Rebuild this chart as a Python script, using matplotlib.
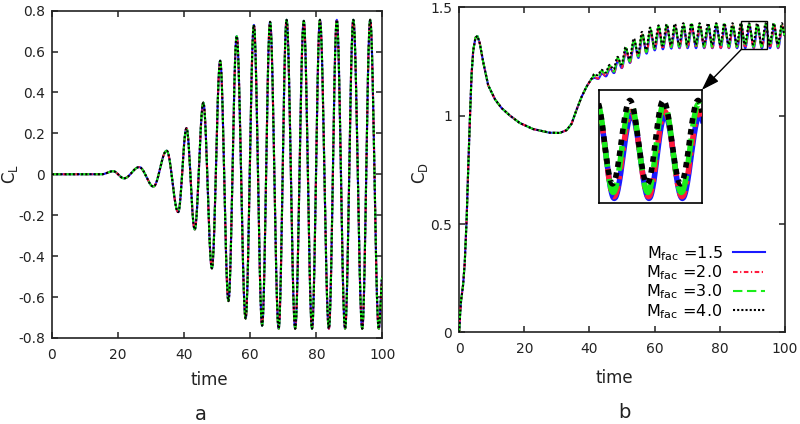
import numpy as np
import matplotlib
matplotlib.use("Agg")
import matplotlib.pyplot as plt
from matplotlib.patches import Rectangle
from matplotlib.ticker import FixedLocator, FixedFormatter

plt.rcParams['font.family'] = ['DejaVu Sans']
plt.rcParams['mathtext.default'] = 'regular'

# ---------------- data ----------------
series_labels = ['$M_{fac}$ =1.5', '$M_{fac}$ =2.0', '$M_{fac}$ =3.0', '$M_{fac}$ =4.0']
series_colors = ['#1a1aff', '#ff1a3c', '#1aee1a', '#000000']

# lift coefficient: flat start then extrema (time, value)
cl_t = [0.0, 15.0, 18.5, 21.8, 26.4, 30.7, 34.7, 38.2, 40.7, 43.2, 45.8, 48.4,
        50.9, 53.4, 55.9, 58.6, 61.1, 63.6, 66.0, 68.6, 71.0, 73.6, 76.2, 78.7,
        81.1, 83.8, 86.2, 88.7, 91.2, 93.9, 96.3, 98.9, 100.0]
cl_v = [0.0, 0.0, 0.015, -0.02, 0.035, -0.06, 0.115, -0.185, 0.225, -0.27, 0.35, -0.46,
        0.555, -0.62, 0.675, -0.705, 0.73, -0.74, 0.745, -0.755, 0.755, -0.755, 0.75, -0.755,
        0.755, -0.755, 0.755, -0.755, 0.755, -0.755, 0.755, -0.755, -0.5]

# drag coefficient: smooth start (time, value)
cd_smooth_t = [0.0, 0.3, 0.6, 1.2, 1.7, 2.3, 2.8, 3.3, 3.8, 4.3, 5.0, 5.6, 6.3, 7.4,
               8.9, 11.0, 13.0, 15.6, 18.6, 22.7, 27.8, 30.9, 33.0, 34.5, 36.0, 37.6,
               39.1, 40.6]
cd_smooth_v = [0.0, 0.09, 0.15, 0.22, 0.32, 0.53, 0.77, 0.99, 1.19, 1.30, 1.36, 1.367,
               1.335, 1.245, 1.14, 1.075, 1.035, 1.0, 0.966, 0.938, 0.921, 0.92, 0.933,
               0.962, 1.025, 1.087, 1.133, 1.17]
# drag coefficient oscillation extrema (time, value); kind: 1 peak, -1 trough
cd_osc_t = [41.5, 42.6, 43.8, 45.0, 46.3, 47.5, 48.7, 49.9, 51.2, 52.4, 53.7, 55.0,
            56.2, 57.5, 58.7, 60.0, 61.3, 62.5, 63.8, 65.1, 66.3, 67.6, 68.9, 70.1,
            71.4, 72.7, 73.9, 75.2, 76.5, 77.7, 79.0, 80.3, 81.5, 82.8, 84.0, 85.3,
            86.6, 87.8, 89.1, 90.4, 91.6, 92.9, 94.2, 95.4, 96.7, 97.9, 99.2, 100.0]
cd_osc_v = [1.185, 1.178, 1.205, 1.19, 1.228, 1.205, 1.265, 1.228, 1.31, 1.252, 1.35, 1.275,
            1.38, 1.295, 1.40, 1.31, 1.41, 1.315, 1.415, 1.318, 1.418, 1.32, 1.42, 1.32,
            1.42, 1.32, 1.42, 1.32, 1.42, 1.32, 1.42, 1.32, 1.42, 1.32, 1.42, 1.32,
            1.42, 1.32, 1.42, 1.32, 1.42, 1.32, 1.42, 1.32, 1.42, 1.32, 1.42, 1.37]
cd_osc_kind = [1, -1] * 23 + [1, 0]
# small per-series differences seen in the zoomed inset
cd_time_shift = [0.05, 0.02, -0.03, -0.08]
cd_peak_offset = [-0.011, -0.007, 0.002, 0.006]
cd_trough_offset = [-0.009, -0.007, -0.002, 0.008]

cl_ticks = [-0.8, -0.6, -0.4, -0.2, 0.0, 0.2, 0.4, 0.6, 0.8]
cl_ticklabels = ['-0.8', '-0.6', '-0.4', '-0.2', '0', '0.2', '0.4', '0.6', '0.8']
cd_ticks = [0.0, 0.5, 1.0, 1.5]
cd_ticklabels = ['0', '0.5', '1', '1.5']
x_ticks = [0, 20, 40, 60, 80, 100]
x_ticklabels = ['0', '20', '40', '60', '80', '100']


def cosine_path(tk, vk, n=24):
    ts, vs = [], []
    for i in range(len(tk) - 1):
        s = np.linspace(0, 1, n, endpoint=False)
        w = (1 - np.cos(np.pi * s)) / 2
        ts.append(tk[i] + (tk[i + 1] - tk[i]) * s)
        vs.append(vk[i] + (vk[i + 1] - vk[i]) * w)
    ts.append([tk[-1]])
    vs.append([vk[-1]])
    return np.concatenate(ts), np.concatenate(vs)


styles = [dict(linestyle='-'),
          dict(linestyle=(0, (2.2, 1.2, 0.6, 1.2))),
          dict(linestyle=(0, (4.5, 2.2))),
          dict(linestyle=(0, (1, 1)))]

fig = plt.figure(figsize=(8, 4.24), dpi=100)
axL = fig.add_axes([0.065, 0.203, 0.413, 0.772])
axR = fig.add_axes([0.574, 0.216, 0.407, 0.767])

lw = 1.5
cl_tt, cl_vv = cosine_path(cl_t, cl_v)
for i in range(4):
    axL.plot(cl_tt, cl_vv, color=series_colors[i], lw=lw, zorder=2 + i, **styles[i])

cd_curves = []
for i in range(4):
    ot = [t + cd_time_shift[i] for t in cd_osc_t]
    ov = []
    for v, k in zip(cd_osc_v, cd_osc_kind):
        if k == 1:
            ov.append(v + cd_peak_offset[i])
        elif k == -1:
            ov.append(v + cd_trough_offset[i])
        else:
            ov.append(v)
    ot = [cd_smooth_t[-1]] + ot
    ov = [cd_smooth_v[-1]] + ov
    tt, vv = cosine_path(ot, ov)
    t_all = np.concatenate([cd_smooth_t[:-1], tt])
    v_all = np.concatenate([cd_smooth_v[:-1], vv])
    cd_curves.append((t_all, v_all))
    axR.plot(t_all, v_all, color=series_colors[i], lw=lw, zorder=2 + i,
             label=series_labels[i], **styles[i])

for ax in (axL, axR):
    ax.set_xlim(0, 100)
    ax.xaxis.set_major_locator(FixedLocator(x_ticks))
    ax.xaxis.set_major_formatter(FixedFormatter(x_ticklabels))
    ax.tick_params(direction='in', length=4, width=1.1, top=True, right=True,
                   labelsize=10, colors='#222222', pad=5)
    ax.tick_params(axis='x', pad=7)
    for sp in ax.spines.values():
        sp.set_linewidth(1.2)
        sp.set_color('#222222')
    ax.set_xlabel('time', fontsize=12, color='#222222')

axL.set_ylim(-0.8, 0.8)
axL.yaxis.set_major_locator(FixedLocator(cl_ticks))
axL.yaxis.set_major_formatter(FixedFormatter(cl_ticklabels))
axL.set_ylabel('$C_L$', fontsize=12, color='#222222')
axL.yaxis.set_label_coords(-0.096, 0.5)
axL.xaxis.set_label_coords(0.477, -0.1)

axR.set_ylim(0, 1.5)
axR.yaxis.set_major_locator(FixedLocator(cd_ticks))
axR.yaxis.set_major_formatter(FixedFormatter(cd_ticklabels))
axR.set_ylabel('$C_D$', fontsize=12, color='#222222')
axR.yaxis.set_label_coords(-0.09, 0.49)
axR.xaxis.set_label_coords(0.477, -0.113)

leg = axR.legend(loc='upper right', bbox_to_anchor=(0.9386, 0.272), frameon=False,
                 markerfirst=False, fontsize=11.5, borderpad=0, borderaxespad=0,
                 handlelength=2.0, handletextpad=0.65, labelspacing=0.04)

# zoom box + inset
x0, x1, y0, y1 = 86.7, 94.4, 1.306, 1.438
axR.add_patch(Rectangle((x0, y0), x1 - x0, y1 - y0, fill=False, lw=1.0, ec='black', zorder=10))
ins = axR.inset_axes([0.429, 0.399, 0.316, 0.346])
for i in range(4):
    t_all, v_all = cd_curves[i]
    ins.plot(t_all, v_all, color=series_colors[i], lw=4, zorder=2 + i, **styles[i])
ins.set_xlim(x0, x1)
ins.set_ylim(y0, y1)
ins.set_xticks([])
ins.set_yticks([])
for sp in ins.spines.values():
    sp.set_linewidth(1.2)
    sp.set_color('black')
axR.annotate('', xy=(0.745, 0.7455), xycoords='axes fraction',
             xytext=(x0, y0), textcoords='data',
             arrowprops=dict(arrowstyle='-|>,head_length=0.6,head_width=0.2',
                             mutation_scale=18, lw=1.0, color='black',
                             shrinkA=0, shrinkB=0), zorder=12)

fig.text(201 / 800, 1 - 415 / 424, 'a', fontsize=14, ha='center', va='center', color='#222222')
fig.text(624 / 800, 1 - 413 / 424, 'b', fontsize=14, ha='center', va='center', color='#222222')

fig.savefig('out.png', dpi=100)
